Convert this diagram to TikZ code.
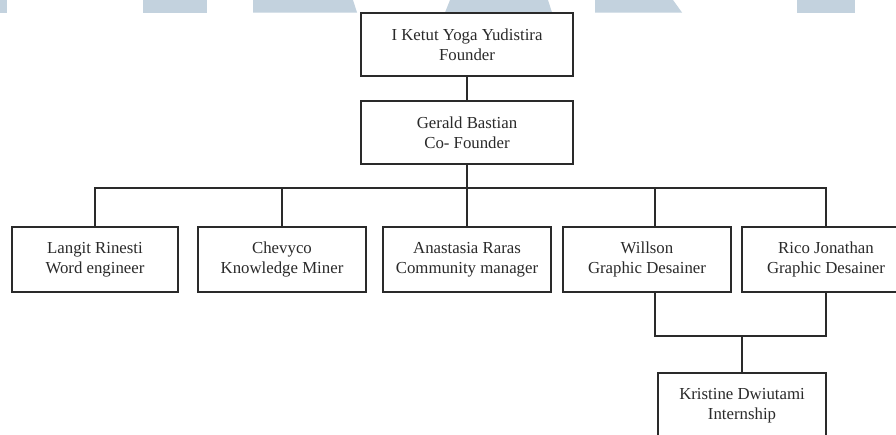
\documentclass[tikz,border=0pt]{standalone}
\usepackage{fontspec}
\setmainfont{Liberation Serif}
\definecolor{wmblue}{HTML}{C3D2DE}
\definecolor{ink}{HTML}{2A2A2A}
\tikzset{
  person/.style={draw=ink, fill=white, line width=1.6pt, text=ink, align=center,
    minimum width=168pt, minimum height=65pt, inner sep=0pt,
    font=\fontsize{16.8}{20}\selectfont},
  link/.style={draw=ink, line width=1.6pt}
}

\begin{document}
\begin{tikzpicture}[x=1pt, y=-1pt]
  \clip (0,0) rectangle (896,434);
  \fill[white] (0,0) rectangle (896,434);
  \fill[wmblue] (0,0) rectangle (7,12.5);
  \fill[wmblue] (143,0) rectangle (207,12.5);
  \fill[wmblue] (253,0) -- (353,0) -- (357,12.5) -- (253,12.5) -- cycle;
  \fill[wmblue] (450,0) -- (548,0) -- (552,12.5) -- (445,12.5) -- cycle;
  \fill[wmblue] (595,0) -- (673,0) -- (682,12.5) -- (595,12.5) -- cycle;
  \fill[wmblue] (797,0) rectangle (855,12.5);

  \node[person, minimum width=212pt, minimum height=63pt] (founder) at (467,44.5)
    {I Ketut Yoga Yudistira\\Founder};
  \node[person, minimum width=212pt, minimum height=63pt] (cofounder) at (467,132.5)
    {Gerald Bastian\\Co- Founder};
  \node[person, minimum width=166pt] (langit) at (95,259.5) {Langit Rinesti\\Word engineer};
  \node[person] (chevyco) at (282,259.5) {Chevyco\\Knowledge Miner};
  \node[person] (anastasia) at (467,259.5) {Anastasia Raras\\Community manager};
  \node[person] (willson) at (647,259.5) {Willson\\Graphic Desainer};
  \node[person] (rico) at (826,259.5) {Rico Jonathan\\Graphic Desainer};
  \node[person] (kristine) at (742,405.5) {Kristine Dwiutami\\Internship};

  \draw[link] (founder) -- (cofounder);
  \draw[link] (cofounder.south) -- ++(0,23) coordinate (bus);
  \foreach \n in {langit, chevyco, anastasia, rico}
    \draw[link] (bus) -| (\n.north);
  \draw[link] (bus) -| ([xshift=8pt]willson.north);
  \draw[link] ([xshift=8pt]willson.south) -- ++(0,43) coordinate (merge) -| (rico.south);
  \draw[link] (kristine.north) -- (kristine.north |- merge);
\end{tikzpicture}
\end{document}
